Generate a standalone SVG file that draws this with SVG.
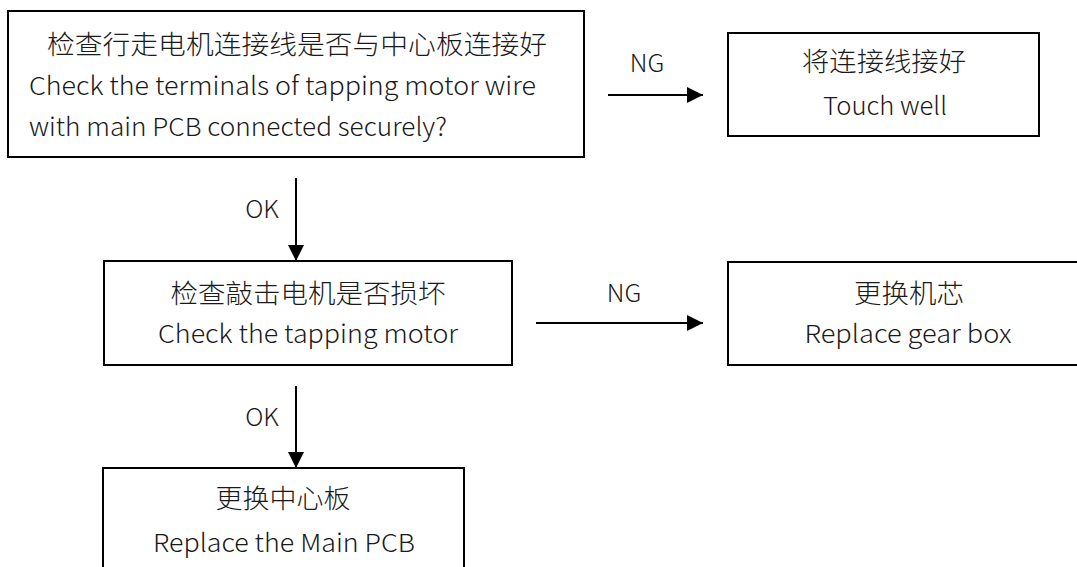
<svg xmlns="http://www.w3.org/2000/svg" width="1077" height="567" viewBox="0 0 1077 567">
<style>
.box{fill:#fff;stroke:#000;stroke-width:2}
.cn{font-family:"Noto Sans CJK SC","Noto Sans",sans-serif;font-size:26px;font-weight:300;fill:#1a1a1a}
.en{font-family:"Noto Sans CJK SC","Noto Sans",sans-serif;font-size:25px;font-weight:300;fill:#1a1a1a}
.lbl{font-family:"Noto Sans CJK SC","Noto Sans",sans-serif;font-size:25px;font-weight:300;fill:#1a1a1a}
.ln{stroke:#000;stroke-width:2;fill:none;marker-end:url(#ah)}
</style>
<defs>
<marker id="ah" markerUnits="userSpaceOnUse" markerWidth="16" markerHeight="16" viewBox="0 0 16 16" refX="16" refY="8" orient="auto">
<path d="M0,0 L16,8 L0,16 Z" fill="#000"/>
</marker>
</defs>
<rect width="1077" height="567" fill="#fff"/>
<g id="n1">
<rect class="box" x="8" y="11" width="576" height="146"/>
<text class="cn" x="297" y="54" text-anchor="middle" textLength="500" lengthAdjust="spacingAndGlyphs">检查行走电机连接线是否与中心板连接好</text>
<text class="en" x="29" y="95" textLength="507" lengthAdjust="spacingAndGlyphs">Check the terminals of tapping motor wire</text>
<text class="en" x="29" y="136" textLength="418" lengthAdjust="spacingAndGlyphs">with main PCB connected securely?</text>
</g>
<g id="n2">
<rect class="box" x="728" y="33" width="311" height="103"/>
<text class="cn" x="884" y="71" text-anchor="middle" textLength="164" lengthAdjust="spacingAndGlyphs">将连接线接好</text>
<text class="en" x="885" y="115" text-anchor="middle" textLength="124" lengthAdjust="spacingAndGlyphs">Touch well</text>
</g>
<g id="n3">
<rect class="box" x="104" y="261" width="408" height="104"/>
<text class="cn" x="308" y="303" text-anchor="middle" textLength="275" lengthAdjust="spacingAndGlyphs">检查敲击电机是否损坏</text>
<text class="en" x="308" y="343" text-anchor="middle" textLength="300" lengthAdjust="spacingAndGlyphs">Check the tapping motor</text>
</g>
<g id="n4">
<rect class="box" x="728" y="262" width="362" height="103"/>
<text class="cn" x="909" y="303" text-anchor="middle" textLength="110" lengthAdjust="spacingAndGlyphs">更换机芯</text>
<text class="en" x="908" y="343" text-anchor="middle" textLength="207" lengthAdjust="spacingAndGlyphs">Replace gear box</text>
</g>
<g id="n5">
<rect class="box" x="103" y="468" width="361" height="120"/>
<text class="cn" x="283" y="508" text-anchor="middle" textLength="135" lengthAdjust="spacingAndGlyphs">更换中心板</text>
<text class="en" x="284" y="552" text-anchor="middle" textLength="262" lengthAdjust="spacingAndGlyphs">Replace the Main PCB</text>
</g>
<g id="connectors">
<line class="ln" x1="608" y1="95" x2="703" y2="95"/>
<text class="lbl" x="647" y="72" text-anchor="middle">NG</text>
<line class="ln" x1="296" y1="178" x2="296" y2="261"/>
<text class="lbl" x="262" y="218" text-anchor="middle">OK</text>
<line class="ln" x1="536" y1="323" x2="703" y2="323"/>
<text class="lbl" x="624" y="302" text-anchor="middle">NG</text>
<line class="ln" x1="296" y1="386" x2="296" y2="468"/>
<text class="lbl" x="262" y="426" text-anchor="middle">OK</text>
</g>
</svg>
